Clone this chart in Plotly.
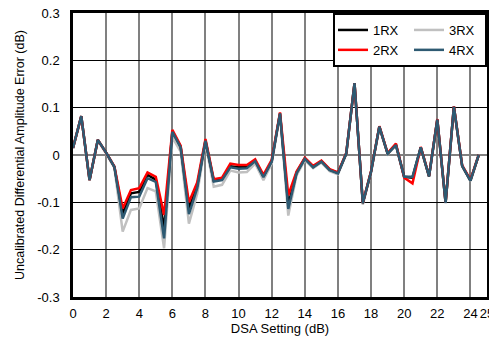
import plotly.graph_objects as go

dsa_db = [0, 0.5, 1, 1.5, 2, 2.5, 3, 3.5, 4, 4.5, 5, 5.5, 6, 6.5, 7, 7.5, 8, 8.5, 9, 9.5,
          10, 10.5, 11, 11.5, 12, 12.5, 13, 13.5, 14, 14.5, 15, 15.5, 16, 16.5, 17, 17.5,
          18, 18.5, 19, 19.5, 20, 20.5, 21, 21.5, 22, 22.5, 23, 23.5, 24, 24.5]

rx1 = [0.015, 0.082, -0.053, 0.032, 0.005, -0.025, -0.124, -0.081, -0.078, -0.042,
       -0.052, -0.155, 0.050, 0.017, -0.113, -0.065, 0.030, -0.054, -0.051, -0.024,
       -0.026, -0.026, -0.012, -0.045, -0.013, 0.088, -0.105, -0.037, -0.007, -0.025,
       -0.013, -0.031, -0.038, 0.003, 0.152, -0.102, -0.035, 0.060, 0.003, 0.022,
       -0.046, -0.048, 0.016, -0.045, 0.075, -0.101, 0.102, -0.023, -0.054, 0.000]

rx2 = [0.015, 0.082, -0.053, 0.032, 0.005, -0.024, -0.113, -0.074, -0.070, -0.037,
       -0.046, -0.127, 0.053, 0.020, -0.100, -0.058, 0.034, -0.051, -0.048, -0.018,
       -0.021, -0.021, -0.009, -0.042, -0.010, 0.090, -0.085, -0.035, -0.006, -0.023,
       -0.012, -0.030, -0.037, 0.004, 0.152, -0.101, -0.034, 0.061, 0.004, 0.024,
       -0.048, -0.060, 0.017, -0.044, 0.076, -0.100, 0.103, -0.022, -0.052, 0.000]

rx3 = [0.014, 0.081, -0.054, 0.031, 0.003, -0.027, -0.162, -0.116, -0.113, -0.070,
       -0.077, -0.197, 0.037, 0.007, -0.145, -0.082, 0.025, -0.067, -0.063, -0.033,
       -0.037, -0.036, -0.018, -0.053, -0.018, 0.085, -0.128, -0.043, -0.011, -0.028,
       -0.016, -0.034, -0.041, 0.002, 0.150, -0.105, -0.037, 0.058, 0.002, 0.020,
       -0.047, -0.047, 0.015, -0.046, 0.073, -0.102, 0.100, -0.024, -0.055, -0.001]

rx4 = [0.015, 0.082, -0.053, 0.032, 0.005, -0.025, -0.134, -0.089, -0.088, -0.049,
       -0.057, -0.176, 0.049, 0.016, -0.125, -0.070, 0.030, -0.056, -0.053, -0.026,
       -0.029, -0.028, -0.013, -0.047, -0.014, 0.088, -0.114, -0.039, -0.008, -0.026,
       -0.014, -0.032, -0.039, 0.003, 0.152, -0.102, -0.035, 0.060, 0.003, 0.021,
       -0.046, -0.046, 0.016, -0.045, 0.075, -0.101, 0.102, -0.023, -0.054, 0.000]

x_ticks = [0, 2, 4, 6, 8, 10, 12, 14, 16, 18, 20, 22, 24, 25]
x_tick_text = ["0", "2", "4", "6", "8", "10", "12", "14", "16", "18", "20", "22", "24", "25"]
y_ticks = [-0.3, -0.2, -0.1, 0, 0.1, 0.2, 0.3]
y_tick_text = ["-0.3", "-0.2", "-0.1", "0", "0.1", "0.2", "0.3"]

series = [
    ("1RX", rx1, "#000000", "a"),
    ("2RX", rx2, "#ff0000", "a"),
    ("3RX", rx3, "#c0c0c0", "b"),
    ("4RX", rx4, "#2e5a72", "b"),
]
ranks = {"1RX": 1, "2RX": 2, "3RX": 3, "4RX": 4}

fig = go.Figure()
# draw order: 3RX behind, then 1RX, 2RX, 4RX on top
for name, vals, color, grp in [series[2], series[0], series[1], series[3]]:
    fig.add_trace(go.Scatter(
        x=dsa_db, y=vals, mode="lines", name=name,
        line=dict(color=color, width=2.5),
        legendgroup=grp, legendrank=ranks[name],
    ))

font_family = "Liberation Sans, Arial, sans-serif"

# page body has an 8px margin, so margins are offset to compensate
fig.update_layout(
    width=497, height=341,
    margin=dict(l=65, r=18, t=5, b=52),
    paper_bgcolor="white", plot_bgcolor="white",
    font=dict(family=font_family, size=13, color="black"),
    showlegend=True,
    legend=dict(
        orientation="h", traceorder="grouped",
        x=1, xanchor="right", y=1, yanchor="top",
        bgcolor="white", bordercolor="black", borderwidth=2,
        font=dict(family=font_family, size=13, color="black"),
        tracegroupgap=0, entrywidth=31,
    ),
    xaxis=dict(
        range=[0, 25], tickmode="array", tickvals=x_ticks, ticktext=x_tick_text,
        tickangle=0, showgrid=True, gridcolor="#808080", gridwidth=2,
        zeroline=False, showline=True, linecolor="black", linewidth=2.5, mirror=True,
        ticks="", ticklabelstandoff=3, automargin=False, ticklabeloverflow="allow",
        title=dict(text="DSA Setting (dB)", font=dict(size=13), standoff=0),
        tickfont=dict(size=13),
    ),
    yaxis=dict(
        range=[-0.3, 0.3], tickmode="array", tickvals=y_ticks, ticktext=y_tick_text,
        showgrid=True, gridcolor="black", gridwidth=1,
        zeroline=True, zerolinecolor="#808080", zerolinewidth=2,
        showline=True, linecolor="black", linewidth=2.5, mirror=True,
        ticks="", ticklabelstandoff=8, automargin=False, ticklabeloverflow="allow",
        title=dict(text="Uncalibrated Differential Amplitude Error (dB)", font=dict(size=12.5), standoff=10),
        tickfont=dict(size=13),
    ),
)

fig.write_html("out.html")
